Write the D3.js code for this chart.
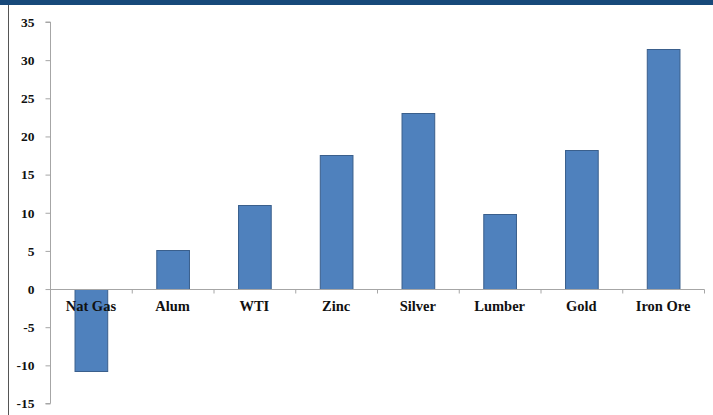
<!DOCTYPE html>
<html>
<head>
<meta charset="utf-8">
<script src="https://cdn.jsdelivr.net/npm/d3@7"></script>
<style>
  body { margin: 0; background: #fff; }
  svg { display: block; }
</style>
</head>
<body>
<div id="plot_area"></div>
<script>
// Chart data
const categories = ['Nat Gas', 'Alum', 'WTI', 'Zinc', 'Silver', 'Lumber', 'Gold', 'Iron Ore'];
const values = [-10.7, 5.1, 11.0, 17.6, 23.1, 9.8, 18.2, 31.4];
const yTicks = [-15, -10, -5, 0, 5, 10, 15, 20, 25, 30, 35];

// Size and margins
const w = 713;
const h = 415;
const padLeft = 50;
const padRight = 704;
const padTop = 22;
const padBottom = 403.5;

const svg = d3.select('#plot_area')
    .append('svg')
    .attr('width', w)
    .attr('height', h);

// Top band and left border
svg.append('rect')
   .attr('x', 0).attr('y', 0)
   .attr('width', w).attr('height', 5)
   .attr('fill', '#17497a');

svg.append('line')
   .attr('x1', 8.5).attr('x2', 8.5)
   .attr('y1', 5).attr('y2', h)
   .attr('stroke', '#555')
   .attr('stroke-width', 1);

// Scales
const xScale = d3.scaleBand()
    .domain(categories)
    .range([padLeft, padRight])
    .paddingInner(0.6)
    .paddingOuter(0.3);

const xBand = d3.scaleBand()
    .domain(categories)
    .range([padLeft, padRight]);

const yScale = d3.scaleLinear()
    .domain([-15, 35])
    .range([padBottom, padTop]);

// Bars
svg.selectAll('rect.bar')
   .data(values)
   .enter()
   .append('rect')
   .attr('class', 'bar')
   .attr('x', (d, i) => xScale(categories[i]) + 0.5)
   .attr('y', (d) => Math.round(yScale(Math.max(0, d))) + 0.5)
   .attr('width', xScale.bandwidth())
   .attr('height', (d) => Math.abs(Math.round(yScale(d)) - Math.round(yScale(0))))
   .attr('fill', '#4f81bd')
   .attr('stroke', '#3a5f8c')
   .attr('stroke-width', 1);

// Y axis
const yAxis = svg.append('g')
    .attr('transform', 'translate(' + (padLeft + 0.5) + ',0)')
    .call(d3.axisLeft(yScale).tickValues(yTicks).tickSize(5).tickPadding(11).tickFormat((d) => String(d)));
yAxis.select('.domain').attr('stroke', '#a6a6a6').attr('d', 'M-5,' + yScale(35) + 'H0V' + yScale(-15) + 'H-5');
yAxis.selectAll('.tick line').attr('stroke', '#a6a6a6');
yAxis.selectAll('.tick text')
     .style('font-family', '"Liberation Serif", serif')
     .style('font-size', '13.5px')
     .style('font-weight', 'bold')
     .attr('fill', '#111');

// X axis at zero
const y0 = Math.round(yScale(0)) + 0.5;
svg.append('line')
   .attr('x1', padLeft).attr('x2', padRight + 0.5)
   .attr('y1', y0).attr('y2', y0)
   .attr('stroke', '#a6a6a6');

svg.selectAll('line.xtick')
   .data(categories.slice(1).concat(['end']))
   .enter()
   .append('line')
   .attr('class', 'xtick')
   .attr('x1', (d) => (d === 'end' ? padRight : xBand(d)) + 0.5)
   .attr('x2', (d) => (d === 'end' ? padRight : xBand(d)) + 0.5)
   .attr('y1', y0)
   .attr('y2', y0 + 4)
   .attr('stroke', '#a6a6a6');

// Category labels
svg.selectAll('text.cat')
   .data(categories)
   .enter()
   .append('text')
   .attr('class', 'cat')
   .attr('x', (d) => xBand(d) + xBand.bandwidth() / 2)
   .attr('y', y0 + 21)
   .attr('text-anchor', 'middle')
   .style('font-family', '"Liberation Serif", serif')
   .style('font-size', '14.5px')
   .style('font-weight', 'bold')
   .attr('fill', '#111')
   .text((d) => d);
</script>
</body>
</html>
